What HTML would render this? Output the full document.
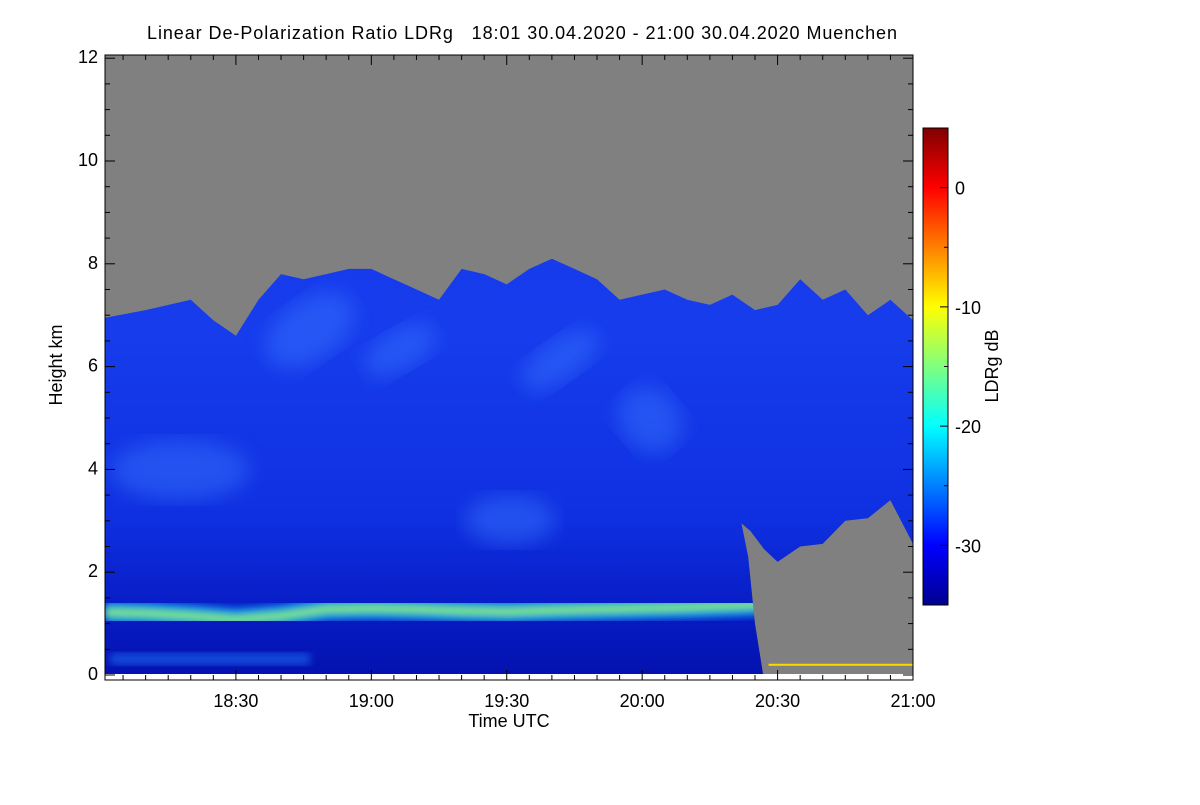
<!DOCTYPE html>
<html><head><meta charset="utf-8"><style>
body{margin:0;background:#fff;font-family:"Liberation Sans",sans-serif;}
svg text{font-family:"Liberation Sans",sans-serif;fill:#000;}
</style></head><body>
<svg id="chart" width="1200" height="800" viewBox="0 0 1200 800" xmlns="http://www.w3.org/2000/svg">
<defs>
<linearGradient id="jet" x1="0" y1="1" x2="0" y2="0">
<stop offset="0" stop-color="#00008f"/><stop offset="0.125" stop-color="#0000ff"/>
<stop offset="0.375" stop-color="#00ffff"/><stop offset="0.625" stop-color="#ffff00"/>
<stop offset="0.875" stop-color="#ff0000"/><stop offset="1" stop-color="#800000"/>
</linearGradient>
<linearGradient id="bg" x1="0" y1="0" x2="0" y2="1">
<stop offset="0" stop-color="#1838ee"/><stop offset="0.45" stop-color="#163cec"/>
<stop offset="0.75" stop-color="#0f30e0"/><stop offset="0.88" stop-color="#081ec8"/>
<stop offset="1" stop-color="#0412b0"/></linearGradient>
<filter id="blur4"><feGaussianBlur stdDeviation="4"/></filter>
<filter id="blur10"><feGaussianBlur stdDeviation="10"/></filter>
<clipPath id="plotclip"><rect x="105" y="55" width="808" height="619"/></clipPath>
</defs>
<text x="522" y="39" font-size="18" text-anchor="middle" xml:space="preserve" style="white-space:pre" textLength="750">Linear De-Polarization Ratio LDRg   18:01 30.04.2020 - 21:00 30.04.2020 Muenchen</text>
<g id="plot" clip-path="url(#plotclip)"></g>
<g id="axes"></g>
<text transform="translate(62,365) rotate(-90)" font-size="18" text-anchor="middle">Height km</text>
<text x="509" y="727" font-size="18" text-anchor="middle">Time UTC</text>
<rect x="923" y="128" width="25" height="477" fill="url(#jet)" stroke="#000" stroke-width="1"/>
<g id="cbaxis"></g>
<text transform="translate(998,366) rotate(-90)" font-size="18" text-anchor="middle">LDRg dB</text>
</svg>
<script>
// data
const times = [1,10,20,25,30,35,40,45,50,55,60,65,70,75,80,85,90,95,100,105,110,115,120,125,130,135,140,145,150,155,160,165,170,175,180]; // minutes after 18:00
const cloudTop = [6.95,7.1,7.3,6.9,6.6,7.3,7.8,7.7,7.8,7.9,7.9,7.7,7.5,7.3,7.9,7.8,7.6,7.9,8.1,7.9,7.7,7.3,7.4,7.5,7.3,7.2,7.4,7.1,7.2,7.7,7.3,7.5,7.0,7.3,6.9];
const layerTimes = [1,10,20,30,40,50,60,70,80,90,100,110,120,130,140,146];
const layerHeight = [1.22,1.2,1.15,1.08,1.15,1.28,1.3,1.28,1.25,1.23,1.26,1.28,1.3,1.32,1.35,1.37];
const precipTimes = [142,144,147,150,155,160,165,170,175,180];
const precipTop = [2.95,2.8,2.45,2.2,2.5,2.55,3.0,3.05,3.4,2.55];
const yTicks = [0,2,4,6,8,10,12];
const xTicks = [30,60,90,120,150,180];
const xTickLabels = ["18:30","19:00","19:30","20:00","20:30","21:00"];
const cbTicks = [0,-10,-20,-30];

const NS="http://www.w3.org/2000/svg";
const x = t => 105 + (t-1)*(808/179);
const y = h => 675 - h*51.4;
const cy = v => 605 - (v+35)*(477/40);
function mk(tag, attrs, parent){const e=document.createElementNS(NS,tag);for(const k in attrs)e.setAttribute(k,attrs[k]);parent.appendChild(e);return e;}
const plot=document.getElementById('plot'), axes=document.getElementById('axes'), cb=document.getElementById('cbaxis');

let e=mk('rect',{x:105,y:55,width:808,height:619,fill:'url(#bg)'},plot);


const patches=[[310,330,50,30,-35],[400,350,40,20,-30],[560,360,45,20,-35],[650,420,30,35,-40],[180,470,70,30,0],[510,520,45,25,0],[250,250,40,25,0]];
patches.forEach(p=>{const el=mk('ellipse',{cx:p[0],cy:p[1],rx:p[2],ry:p[3],fill:'#3a78ff',opacity:0.45,filter:'url(#blur10)',transform:`rotate(${p[4]} ${p[0]} ${p[1]})`},plot);

});
let d=`M105,50 `; times.forEach((t,i)=>{d+=`L${x(t).toFixed(1)},${y(cloudTop[i]).toFixed(1)} `;}); d+='L918,50 Z';
e=mk('path',{d:d,fill:'#808080'},plot);


let ld=''; layerTimes.forEach((t,i)=>{ld+=(i?'L':'M')+x(t).toFixed(1)+','+y(layerHeight[i]).toFixed(1)+' ';});
e=mk('path',{d:ld,fill:'none',stroke:'#1ec8ff',"stroke-width":22,opacity:0.7,filter:'url(#blur4)'},plot);


e=mk('path',{d:ld,fill:'none',stroke:'#90f080',"stroke-width":8,filter:'url(#blur4)'},plot);


e=mk('rect',{x:110,y:653,width:200,height:12,fill:'#1a6ef5',opacity:0.6,filter:'url(#blur4)'},plot);


let pd=`M${x(precipTimes[0])},${y(precipTop[0])} `; precipTimes.forEach((t,i)=>{pd+=`L${x(t).toFixed(1)},${y(precipTop[i]).toFixed(1)} `;});
pd+=`L918,680 L${x(147).toFixed(1)},680 L${x(145).toFixed(1)},${y(1.0)} L${x(143.5).toFixed(1)},${y(2.3)} Z`;
e=mk('path',{d:pd,fill:'#808080'},plot);


e=mk('line',{x1:x(148),x2:913,y1:y(0.2),y2:y(0.2),stroke:'#ffd800',"stroke-width":2},plot);



e=mk('rect',{x:105,y:55,width:808,height:625,fill:'none',stroke:'#000',"stroke-width":1},axes);


for(let h=0;h<=12;h+=0.5){const maj=h%2===0;const l=maj?10:5;
 mk('line',{x1:105,x2:105+l,y1:y(h),y2:y(h),stroke:'#000'},axes);
 mk('line',{x1:913,x2:913-l,y1:y(h),y2:y(h),stroke:'#000'},axes);}
yTicks.forEach(h=>{const t=mk('text',{x:98,y:y(h)+5,"font-size":18,"text-anchor":"end"},axes);t.textContent=h;

});
for(let m=5;m<=180;m+=5){const maj=m%30===0;const l=maj?10:5;
 mk('line',{x1:x(m),x2:x(m),y1:680,y2:680-l,stroke:'#000'},axes);
 mk('line',{x1:x(m),x2:x(m),y1:55,y2:55+l,stroke:'#000'},axes);}
xTicks.forEach((m,i)=>{const t=mk('text',{x:x(m),y:707,"font-size":18,"text-anchor":"middle"},axes);t.textContent=xTickLabels[i];

});
for(let v=-35;v<=5;v+=5){const maj=v%10===0;mk('line',{x1:948,x2:948-(maj?8:4),y1:cy(v),y2:cy(v),stroke:'#000'},cb);}
cbTicks.forEach(v=>{const t=mk('text',{x:955,y:cy(v)+7,"font-size":18},cb);t.textContent=v;

});
</script>
</body></html>
